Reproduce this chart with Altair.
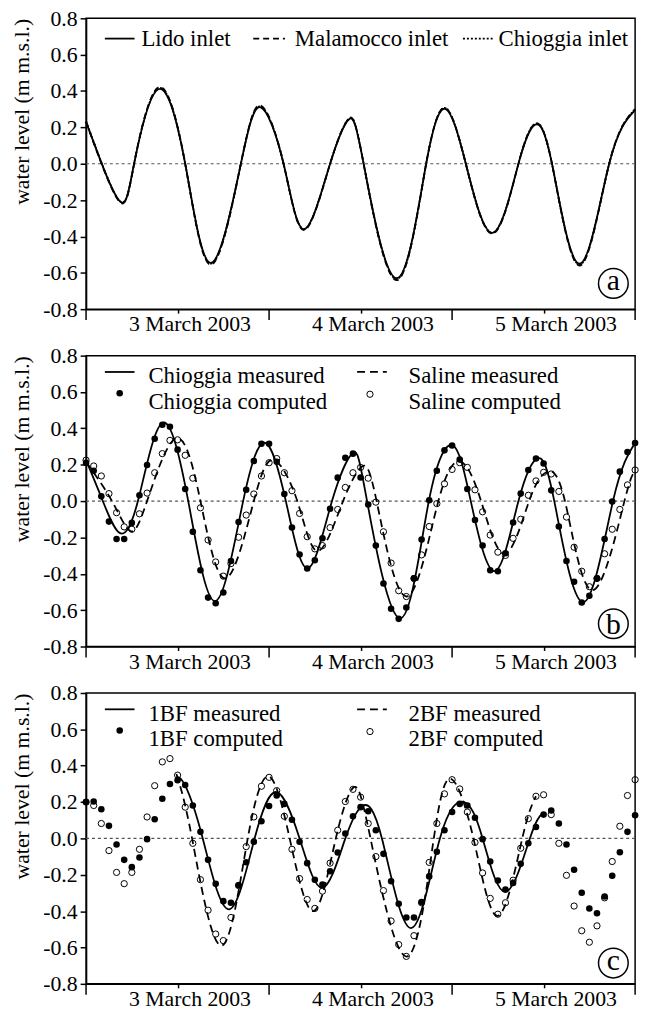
import altair as alt
import pandas as pd

# ---------------- data ----------------
HOURS = list(range(73))
X_TICK_VALUES = [12, 36, 60]
X_TICK_LABELS = ["3 March 2003", "4 March 2003", "5 March 2003"]
DAY_TICKS = [0, 24, 48, 72]
Y_TICKS = [-0.8, -0.6, -0.4, -0.2, 0.0, 0.2, 0.4, 0.6, 0.8]
ZERO_LEVEL = [0.0]
Y_TITLE = "water level (m m.s.l.)"

# panel a : inlets (key points)
A_NAMES = ["Lido inlet", "Malamocco inlet", "Chioggia inlet"]
A_TIME = [0, 4.3, 6.3, 9.5, 13.0, 16.4, 20.3, 22.9, 25.9, 28.6, 32.0, 34.5,
          36.4, 40.7, 44.6, 47.2, 49.8, 53.3, 56.7, 58.9, 61.1, 64.7, 68.6, 72]
A_LIDO = [0.23, -0.20, 0, 0.41, 0, -0.545, 0, 0.31, 0, -0.36, 0, 0.245,
          0, -0.63, 0, 0.30, 0, -0.38, 0, 0.215, 0, -0.55, 0, 0.295]
A_MALAMOCCO = [0.23, -0.205, 0, 0.42, 0, -0.555, 0, 0.32, 0, -0.365, 0, 0.25,
               0, -0.64, 0, 0.305, 0, -0.385, 0, 0.22, 0, -0.56, 0, 0.30]
A_CHIOGGIA = [0.235, -0.20, 0, 0.415, 0, -0.55, 0, 0.315, 0, -0.36, 0, 0.25,
              0, -0.635, 0, 0.305, 0, -0.38, 0, 0.22, 0, -0.555, 0, 0.30]

# panel b
B_NAMES = ["Chioggia measured", "Chioggia computed", "Saline measured", "Saline computed"]
B_CHI_MEAS_T = [0, 2.2, 4.4, 6.8, 10.0, 13.4, 16.95, 20.6, 23.5, 26.2, 29.06, 32.25,
                35.0, 36.85, 41.17, 44.95, 48.1, 50.45, 53.58, 56.7, 59.2, 61.4, 65.17, 69.1, 72]
B_CHI_MEAS_V = [0.225, 0, -0.175, 0, 0.43, 0, -0.55, 0, 0.32, 0, -0.37, 0,
                0.265, 0, -0.645, 0, 0.306, 0, -0.385, 0, 0.235, 0, -0.556, 0, 0.32]
B_SAL_MEAS_T = [0, 3.4, 5.8, 8.0, 11.8, 15.0, 18.3, 22.0, 24.6, 27.7, 30.4, 33.7,
                36.2, 38.1, 42.0, 46.2, 49.2, 51.8, 54.9, 58.1, 60.4, 62.8, 66.4, 70.6, 72]
B_SAL_MEAS_V = [0.215, 0, -0.165, 0, 0.345, 0, -0.425, 0, 0.225, 0, -0.275, 0,
                0.19, 0, -0.525, 0, 0.215, 0, -0.29, 0, 0.16, 0, -0.49, 0, 0.15]
B_CHI_COMP = [0.21, 0.167, 0.026, -0.113, -0.209, -0.209, -0.12, 0.032, 0.198, 0.343,
              0.42, 0.409, 0.283, 0.066, -0.169, -0.381, -0.531, -0.562, -0.503, -0.33,
              -0.115, 0.062, 0.22, 0.315, 0.315, 0.216, 0.039, -0.146, -0.294, -0.371,
              -0.326, -0.205, -0.042, 0.129, 0.238, 0.261, 0.13, -0.019, -0.245, -0.453,
              -0.592, -0.648, -0.585, -0.425, -0.212, 0.005, 0.167, 0.279, 0.306, 0.229,
              0.066, -0.104, -0.245, -0.381, -0.386, -0.287, -0.118, 0.041, 0.171, 0.234,
              0.207, 0.059, -0.14, -0.33, -0.444, -0.558, -0.521, -0.425, -0.209, -0.003,
              0.162, 0.27, 0.319]
B_SAL_COMP = [0.225, 0.193, 0.138, 0.041, -0.064, -0.142, -0.155, -0.07, 0.044, 0.156,
              0.261, 0.334, 0.337, 0.252, 0.126, -0.037, -0.214, -0.335, -0.413, -0.344,
              -0.199, -0.077, 0.039, 0.138, 0.211, 0.234, 0.156, 0.057, -0.068, -0.196,
              -0.263, -0.245, -0.146, -0.046, 0.075, 0.156, 0.185, 0.126, -0.006, -0.169,
              -0.341, -0.493, -0.525, -0.426, -0.296, -0.14, -0.014, 0.095, 0.174, 0.211,
              0.185, 0.062, -0.059, -0.187, -0.281, -0.299, -0.205, -0.1, 0.032, 0.111,
              0.158, 0.149, 0.053, -0.088, -0.254, -0.386, -0.471, -0.426, -0.29, -0.155,
              -0.046, 0.089, 0.171]

# panel c
C_NAMES = ["1BF measured", "1BF computed", "2BF measured", "2BF computed"]
C_1BF_MEAS_T = [11.85, 13.0, 15.3, 18.7, 22.1, 25.0, 28.0, 31.0, 34.0, 36.3, 38.8,
                42.6, 46.4, 49.6, 52.0, 55.0, 58.2, 59.8]
C_1BF_MEAS_V = [0.34, 0.29, 0, -0.39, 0, 0.255, 0, -0.272, 0, 0.18, 0,
                -0.493, 0, 0.20, 0, -0.294, 0, 0.136]
C_2BF_MEAS_T = [11.85, 13.9, 17.7, 21.2, 24.0, 26.7, 29.8, 32.75, 35.1, 37.3, 42.0,
                45.6, 47.9, 50.8, 54.0, 57.2, 59.0]
C_2BF_MEAS_V = [0.354, 0, -0.59, 0, 0.341, 0, -0.40, 0, 0.281, 0, -0.65,
                0, 0.327, 0, -0.426, 0, 0.232]
C_1BF_COMP = [0.20, 0.203, 0.16, 0.069, -0.033, -0.118, -0.158, -0.105, -0.004, 0.105,
              0.218, 0.299, 0.32, 0.294, 0.181, 0.036, -0.118, -0.25, -0.345, -0.354,
              -0.258, -0.131, -0.018, 0.094, 0.178, 0.236, 0.19, 0.103, -0.018, -0.136,
              -0.227, -0.254, -0.181, -0.078, 0.027, 0.122, 0.172, 0.149, 0.045, -0.085,
              -0.236, -0.359, -0.435, -0.435, -0.35, -0.209, -0.073, 0.045, 0.145, 0.19,
              0.181, 0.114, -0.004, -0.127, -0.232, -0.281, -0.245, -0.14, -0.027, 0.063,
              0.131, 0.154, 0.082, -0.033, -0.172, -0.299, -0.386, -0.412, -0.32, -0.205,
              -0.076, 0.036, 0.127]
C_2BF_COMP = [0.20, 0.181, 0.082, -0.067, -0.187, -0.249, -0.187, -0.06, 0.118, 0.29,
              0.421, 0.439, 0.348, 0.172, -0.027, -0.227, -0.395, -0.526, -0.562, -0.435,
              -0.259, -0.045, 0.118, 0.287, 0.336, 0.263, 0.122, -0.06, -0.221, -0.336,
              -0.385, -0.29, -0.136, 0.045, 0.203, 0.27, 0.227, 0.082, -0.1, -0.287,
              -0.454, -0.584, -0.649, -0.535, -0.354, -0.132, 0.082, 0.245, 0.323, 0.272,
              0.145, -0.022, -0.19, -0.33, -0.417, -0.354, -0.23, -0.054, 0.109, 0.232,
              0.24, 0.131, -0.027, -0.203, -0.372, -0.508, -0.571, -0.481, -0.327, -0.127,
              0.067, 0.236, 0.323]

# ---------------- style ----------------
FONT = "Liberation Serif"
W, H = 555, 294
LW = 1.8
DASH = [8, 5]
DOT = [2, 2]

x_label_expr = " : ".join(
    f"datum.value == {v} ? '{l}'" for v, l in zip(X_TICK_VALUES, X_TICK_LABELS)) + " : ''"
x_scale = alt.Scale(domain=[0, 72], nice=False, zero=False)
x_axis = alt.Axis(values=X_TICK_VALUES, labelExpr=x_label_expr, tickSize=4, labelPadding=1,
                  labelOffset=12, labelFlush=False, labelOverlap=False, title=None, grid=False)
y_scale = alt.Scale(domain=[-0.8, 0.8], nice=False, zero=False)
y_axis = alt.Axis(values=Y_TICKS,
                  labelExpr="(datum.value < 0 ? '-' : '') + format(abs(datum.value), '.1f')",
                  tickSize=6, labelPadding=3, title=Y_TITLE, titleAnchor="end",
                  titlePadding=9, grid=False)


def X():
    return alt.X("t:Q", scale=x_scale, axis=x_axis)


def Y():
    return alt.Y("v:Q", scale=y_scale, axis=y_axis)


ONE = pd.DataFrame({"k": [0]})


def line(ts, vs, dash=None):
    kw = dict(interpolate="natural", color="black", strokeWidth=LW)
    if dash:
        kw["strokeDash"] = dash
    return alt.Chart(pd.DataFrame({"t": ts, "v": vs})).mark_line(**kw).encode(x=X(), y=Y())


def dots(vs, filled):
    df = pd.DataFrame({"t": HOURS, "v": vs})
    if filled:
        m = alt.Chart(df).mark_point(shape="circle", filled=True, size=44, color="black", opacity=1)
    else:
        m = alt.Chart(df).mark_point(shape="circle", filled=False, size=40, color="black",
                                     strokeWidth=1, opacity=1)
    return m.encode(x=X(), y=Y())


def ltext(x, y, s):
    return alt.Chart(ONE).mark_text(align="left", baseline="alphabetic", font=FONT, fontSize=23,
                                    color="black").encode(
        x=alt.value(x), y=alt.value(y), text=alt.value(s))


def lline(x0, x1, y, dash=None):
    kw = dict(color="black", strokeWidth=LW)
    if dash:
        kw["strokeDash"] = dash
    return alt.Chart(ONE).mark_rule(**kw).encode(x=alt.value(x0), x2=alt.value(x1), y=alt.value(y))


def ldot(x, y, filled):
    if filled:
        m = alt.Chart(ONE).mark_point(shape="circle", filled=True, size=44, color="black", opacity=1)
    else:
        m = alt.Chart(ONE).mark_point(shape="circle", filled=False, size=40, color="black",
                                      strokeWidth=1, opacity=1)
    return m.encode(x=alt.value(x), y=alt.value(y))


def base():
    return alt.Chart(pd.DataFrame({"v": ZERO_LEVEL})).mark_rule(
        color="#555555", strokeDash=[3, 3], strokeWidth=1.2).encode(
        y=Y(), x=alt.value(0), x2=alt.value(W))


def day_ticks():
    return alt.Chart(pd.DataFrame({"t": DAY_TICKS})).mark_rule(color="black", strokeWidth=1.5).encode(
        x=X(), y=alt.value(H), y2=alt.value(H + 11))


def badge(letter, cy, dy):
    c = alt.Chart(ONE).mark_point(shape="circle", size=900, filled=False, color="black",
                                  strokeWidth=1.5, opacity=1).encode(
        x=alt.value(533), y=alt.value(cy))
    t = alt.Chart(ONE).mark_text(align="center", baseline="alphabetic", font=FONT, fontSize=30,
                                 color="black").encode(
        x=alt.value(533), y=alt.value(cy + dy), text=alt.value(letter))
    return [c, t]


def two_col_legend(names):
    return [
        lline(19, 49, 16.5), ltext(63, 28, names[0]),
        ldot(34, 38, True), ltext(63, 54, names[1]),
        lline(274, 304, 16.5, DASH), ltext(326, 28, names[2]),
        ldot(287, 39, False), ltext(326, 54, names[3]),
    ]


panel_a = alt.layer(
    base(),
    line(A_TIME, A_CHIOGGIA, DOT),
    line(A_TIME, A_MALAMOCCO, [6, 4]),
    line(A_TIME, A_LIDO),
    day_ticks(),
    lline(19, 49, 20.5), ltext(56, 28, A_NAMES[0]),
    lline(169, 201, 20.5, [6, 4]), ltext(211, 28, A_NAMES[1]),
    lline(381, 412, 20.5, DOT), ltext(417, 28, A_NAMES[2]),
    *badge("a", H - 26, 7),
).properties(width=W, height=H)

panel_b = alt.layer(
    base(),
    line(B_SAL_MEAS_T, B_SAL_MEAS_V, DASH),
    line(B_CHI_MEAS_T, B_CHI_MEAS_V),
    dots(B_SAL_COMP, False),
    dots(B_CHI_COMP, True),
    day_ticks(),
    *two_col_legend(B_NAMES),
    *badge("b", H - 23, 10),
).properties(width=W, height=H)

panel_c = alt.layer(
    base(),
    line(C_2BF_MEAS_T, C_2BF_MEAS_V, DASH),
    line(C_1BF_MEAS_T, C_1BF_MEAS_V),
    dots(C_2BF_COMP, False),
    dots(C_1BF_COMP, True),
    day_ticks(),
    *two_col_legend(C_NAMES),
    *badge("c", H - 21, 7),
).properties(width=W, height=H)

chart = alt.vconcat(panel_a, panel_b, panel_c, spacing=8).properties(
    padding={"left": 10, "top": 1, "right": 4, "bottom": 0},
    background="white",
).configure_view(stroke="black", strokeWidth=1.5).configure_axis(
    domainColor="black", domainWidth=1.5, tickColor="black", tickWidth=1.5,
    labelFont=FONT, labelFontSize=22, labelColor="black",
    titleFont=FONT, titleFontSize=22, titleFontWeight="normal", titleColor="black",
)

chart.save("out.html", embed_options={"renderer": "svg", "actions": False})
